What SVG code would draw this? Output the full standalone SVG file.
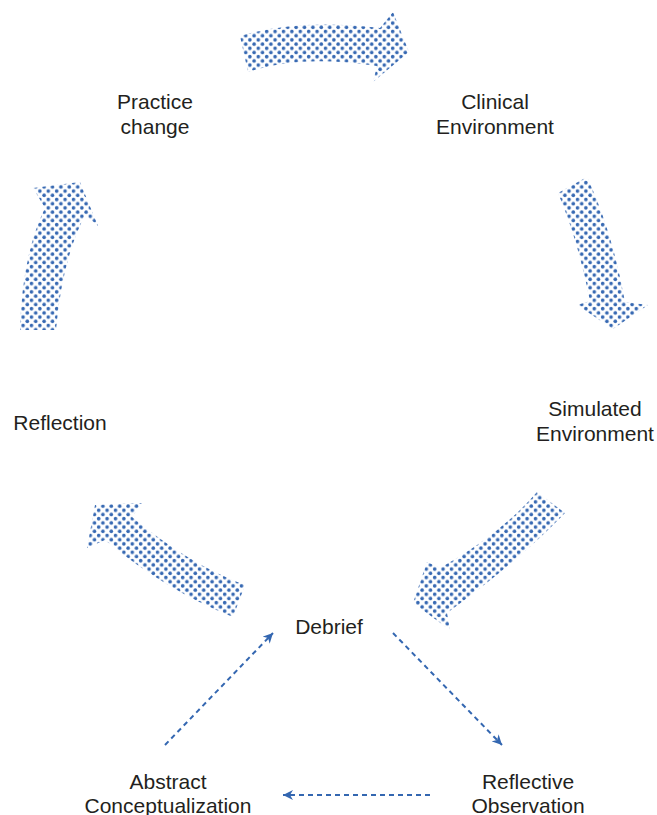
<svg xmlns="http://www.w3.org/2000/svg" width="657" height="815" viewBox="0 0 657 815">
  <style>
    .label { font-family: "Liberation Sans", Arial, sans-serif; font-size: 21px; fill: #231f20; text-anchor: middle; }
    .cycle { fill: url(#dots); }
    .link { fill: none; stroke: #3467b1; stroke-width: 2; stroke-dasharray: 5 4; marker-end: url(#barb); }
  </style>
  <defs>
    <!-- halftone dot fill for the cycle arrows -->
    <pattern id="dots" patternUnits="userSpaceOnUse" width="8.4" height="8.4">
      <circle cx="2.1" cy="2.1" r="1.8" fill="#3668b2"/>
      <circle cx="6.3" cy="6.3" r="1.8" fill="#3668b2"/>
    </pattern>
    <marker id="barb" viewBox="0 0 10 10" refX="10" refY="5" markerWidth="10" markerHeight="10" markerUnits="userSpaceOnUse" orient="auto">
      <path d="M0,0 L10,5 L0,10 L3,5 Z" fill="#3467b1"/>
    </marker>
  </defs>

  <!-- cycle arrows -->
  <g id="arrow-practice-to-clinical">
    <path class="cycle" d="M240,36 Q300,18 380,28 L393,12 L409,52 L373,82 L377,66 Q300,54 248,72 Z"/>
  </g>
  <g id="arrow-clinical-to-simulated">
    <path class="cycle" d="M558,193 L587,177 Q612,230 625,302 L648,305 L613,329 L577,305 L590,301 Q578,240 558,193 Z"/>
  </g>
  <g id="arrow-simulated-to-debrief">
    <path class="cycle" d="M537,492 L565,513 Q520,560 447,613 L450,630 L413,603 L427,562 L440,568 Q500,535 537,492 Z"/>
  </g>
  <g id="arrow-debrief-to-reflection">
    <path class="cycle" d="M245,585 Q190,565 132,517 L142,503 L95,505 L87,548 L105,540 Q165,590 233,617 Z"/>
  </g>
  <g id="arrow-reflection-to-practice">
    <path class="cycle" d="M20,330 Q22,255 45,208 L33,188 L80,182 L98,226 L85,215 Q62,260 56,330 Z"/>
  </g>

  <!-- dashed learning-cycle connectors -->
  <g id="connectors">
    <path class="link" d="M165,745 L273,633"/>
    <path class="link" d="M393,633 L502,745"/>
    <path class="link" d="M430,795 L283,795"/>
  </g>

  <g id="practice-change">
    <text class="label" x="155" y="109">Practice</text>
    <text class="label" x="155" y="134">change</text>
  </g>
  <g id="clinical-environment">
    <text class="label" x="495" y="109">Clinical</text>
    <text class="label" x="495" y="134">Environment</text>
  </g>
  <g id="simulated-environment">
    <text class="label" x="595" y="416">Simulated</text>
    <text class="label" x="595" y="441">Environment</text>
  </g>
  <g id="reflection">
    <text class="label" x="60" y="430">Reflection</text>
  </g>
  <g id="debrief">
    <text class="label" x="329" y="634">Debrief</text>
  </g>
  <g id="abstract-conceptualization">
    <text class="label" x="168" y="789">Abstract</text>
    <text class="label" x="168" y="813">Conceptualization</text>
  </g>
  <g id="reflective-observation">
    <text class="label" x="528" y="789">Reflective</text>
    <text class="label" x="528" y="813">Observation</text>
  </g>
</svg>
